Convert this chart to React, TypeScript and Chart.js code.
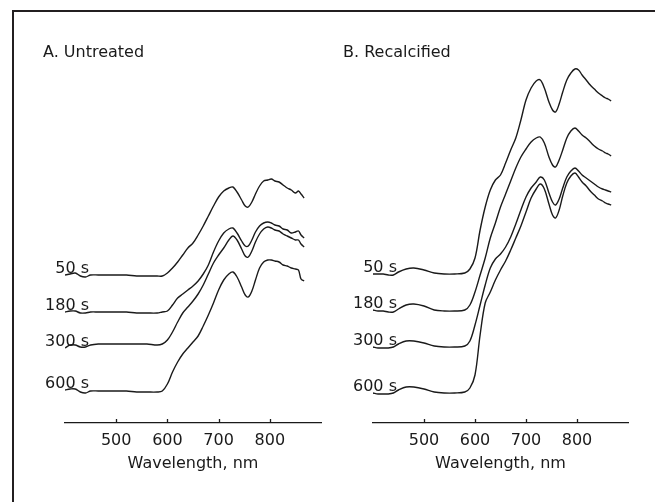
import React, { useEffect, useRef } from "react";
import { Chart, registerables } from "chart.js";

Chart.register(...registerables);
Chart.defaults.font.family = "'DejaVu Sans', sans-serif";

// Wavelength grid (nm) at which the spectra were read
const wavelengths = [
  400, 410, 420, 430, 440, 450, 465, 480, 500, 520,
  540, 560, 580, 590, 600, 610, 620, 630, 640, 650,
  660, 670, 680, 690, 700, 710, 720, 728, 736, 745,
  752, 758, 765, 772, 780, 788, 796, 803, 810, 818,
  826, 834, 842, 850, 856, 861, 867,
];

// Relative absorbance (offset, arbitrary units) — A. Untreated
const untreated50 = [
  148, 149, 150, 147, 146, 148, 148, 148, 148, 148,
  147, 147, 147, 147, 150, 155, 161, 168, 175, 180,
  188, 197, 207, 217, 226, 232, 235, 236, 231, 223,
  217, 216, 221, 229, 237, 242, 243, 244, 242, 241,
  238, 235, 233, 230, 232, 229, 225,
];
const untreated180 = [
  111, 112, 112, 110, 110, 111, 111, 111, 111, 111,
  110, 110, 110, 111, 112, 118, 125, 129, 133, 137,
  142, 149, 158, 171, 182, 190, 194, 195, 190, 182,
  177, 177, 183, 191, 197, 200, 201, 200, 198, 197,
  194, 193, 190, 191, 192, 188, 185,
];
const untreated300 = [
  75, 78, 78, 76, 76, 78, 79, 79, 79, 79,
  79, 79, 78, 79, 83, 91, 101, 110, 116, 122,
  129, 138, 149, 160, 168, 175, 183, 187, 183, 174,
  167, 166, 172, 181, 189, 194, 196, 195, 193, 192,
  189, 187, 185, 183, 183, 179, 176,
];
const untreated600 = [
  33, 34, 34, 31, 30, 32, 32, 32, 32, 32,
  31, 31, 31, 32, 39, 51, 61, 69, 75, 81,
  87, 97, 108, 120, 133, 143, 149, 151, 146, 136,
  128, 126, 132, 143, 155, 161, 163, 163, 162, 161,
  158, 157, 155, 154, 153, 144, 142,
];

// B. Recalcified
const recalcified50 = [
  149, 149, 149, 148, 148, 151, 154, 155, 153, 150,
  149, 149, 150, 154, 165, 193, 216, 233, 243, 248,
  260, 273, 285, 303, 323, 335, 342, 343, 335, 321,
  313, 311, 319, 331, 343, 350, 354, 353, 348, 343,
  338, 334, 330, 327, 325, 324, 322,
];
const recalcified180 = [
  113, 112, 112, 111, 111, 114, 118, 119, 117, 113,
  112, 112, 113, 118, 131, 148, 165, 185, 200, 216,
  229, 242, 255, 266, 274, 281, 285, 286, 280, 266,
  258, 256, 263, 273, 285, 292, 295, 292, 288, 285,
  281, 277, 274, 272, 270, 269, 267,
];
const recalcified300 = [
  76, 75, 75, 75, 76, 79, 82, 82, 80, 77,
  76, 76, 77, 82, 98, 118, 138, 155, 164, 169,
  176, 186, 199, 213, 226, 235, 241, 246, 243, 230,
  221, 218, 224, 235, 246, 252, 255, 252, 248, 245,
  242, 239, 236, 234, 233, 232, 231,
];
const recalcified600 = [
  30, 29, 29, 29, 30, 33, 36, 36, 34, 31,
  30, 30, 31, 35, 48, 88, 120, 131, 143, 153,
  162, 173, 185, 197, 211, 225, 234, 239, 234, 219,
  208, 205, 213, 227, 240, 247, 250, 246, 241, 237,
  232, 228, 224, 222, 220, 219, 218,
];

const seriesLabels = ["50 s", "180 s", "300 s", "600 s"];
const xTicks = [500, 600, 700, 800];
const xMin = 400;
const xMax = 900;
const labelAnchorNm = 447;
const xAxisTitle = "Wavelength, nm";
const panelTitles = ["A. Untreated", "B. Recalcified"];

const INK = "#1a1a1a";

const decorPlugin = {
  id: "decor",
  afterDraw(chart: any, _args: any, opts: any) {
    const ctx = chart.ctx;
    const xs = chart.scales.x;
    const area = chart.chartArea;
    ctx.save();
    ctx.strokeStyle = INK;
    ctx.lineWidth = 1.3;
    for (const v of xTicks) {
      const px = Math.round(xs.getPixelForValue(v)) + 0.5;
      ctx.beginPath();
      ctx.moveTo(px, area.bottom);
      ctx.lineTo(px, area.bottom - 4);
      ctx.stroke();
    }
    ctx.font = "16px 'DejaVu Sans', sans-serif";
    ctx.fillStyle = INK;
    ctx.textAlign = "right";
    ctx.textBaseline = "alphabetic";
    chart.data.datasets.forEach((ds: any, i: number) => {
      const meta = chart.getDatasetMeta(i);
      const p = meta.data[0];
      ctx.fillText(ds.label, xs.getPixelForValue(labelAnchorNm), p.y - 2);
    });
    ctx.textAlign = "left";
    ctx.fillText(opts.title, opts.titleX, opts.titleY);
    ctx.restore();
  },
};

function Panel(props: {
  title: string;
  series: number[][];
  left: number;
  width: number;
  padLeft: number;
  padRight: number;
  titleX: number;
}) {
  const ref = useRef<HTMLCanvasElement>(null);
  useEffect(() => {
    if (!ref.current) return;
    const datasets = props.series.map((vals, i) => ({
      label: seriesLabels[i],
      data: wavelengths.map((w, j) => ({ x: w, y: vals[j] })),
      borderColor: INK,
      borderWidth: 1.4,
      pointRadius: 0,
      tension: 0.35,
      fill: false,
    }));
    const chart = new Chart(ref.current, {
      type: "line",
      data: { datasets },
      plugins: [decorPlugin],
      options: {
        animation: false,
        responsive: false,
        devicePixelRatio: 1,
        layout: { padding: { left: props.padLeft, right: props.padRight, top: 30, bottom: 0 } },
        plugins: {
          legend: { display: false },
          tooltip: { enabled: false },
          decor: { title: props.title, titleX: props.titleX, titleY: 27 },
        } as any,
        scales: {
          x: {
            type: "linear",
            min: xMin,
            max: xMax,
            afterBuildTicks: (axis: any) => {
              axis.ticks = xTicks.map((v) => ({ value: v }));
            },
            afterFit: (s: any) => {
              s.height = 77;
            },
            grid: { display: false, drawTicks: false },
            border: { display: true, color: INK, width: 1.3 },
            ticks: { padding: 8, color: INK, font: { size: 16 } },
            title: {
              display: true,
              text: xAxisTitle,
              color: INK,
              font: { size: 16 },
              padding: { top: 0, bottom: 27 },
            },
          },
          y: { display: false, min: 0, max: 363 },
        },
      } as any,
    });
    return () => chart.destroy();
  }, []);
  return (
    <canvas
      ref={ref}
      width={props.width}
      height={470}
      style={{ position: "absolute", left: props.left, top: 30, width: props.width, height: 470 }}
    />
  );
}

export default function App() {
  return (
    <div
      style={{
        position: "fixed",
        left: 0,
        top: 0,
        width: 655,
        height: 502,
        overflow: "hidden",
        background: "#fff",
      }}
    >
      <div
        style={{
          position: "absolute",
          left: 12,
          top: 10,
          width: 720,
          height: 620,
          borderLeft: "2px solid #231f20",
          borderTop: "2px solid #231f20",
        }}
      />
      <Panel
        title={panelTitles[0]}
        series={[untreated50, untreated180, untreated300, untreated600]}
        left={20}
        width={315}
        padLeft={45}
        padRight={14}
        titleX={23}
      />
      <Panel
        title={panelTitles[1]}
        series={[recalcified50, recalcified180, recalcified300, recalcified600]}
        left={335}
        width={310}
        padLeft={38}
        padRight={17}
        titleX={8}
      />
    </div>
  );
}
